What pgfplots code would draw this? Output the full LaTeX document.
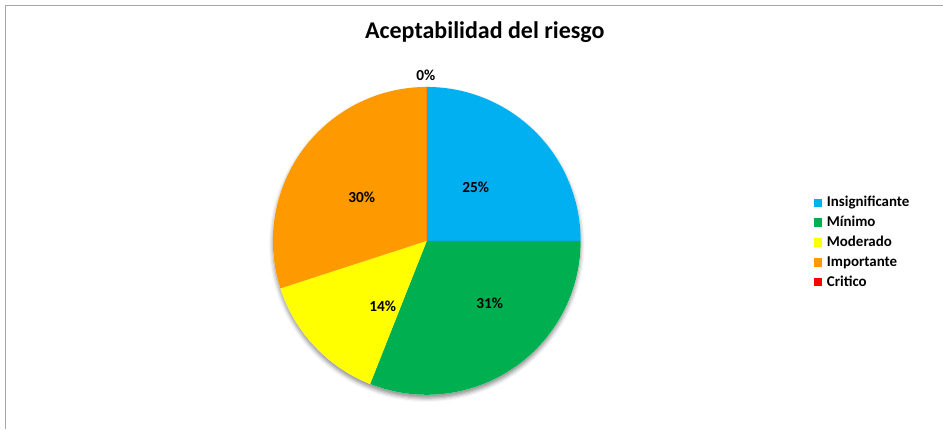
\documentclass[border=0pt]{standalone}
\usepackage{pgfplots}
\pgfplotsset{compat=1.18}
\usepackage{pgfplotstable}
\usepackage{fontspec}
\setmainfont{Carlito}
\usetikzlibrary{shadows.blur}

\definecolor{cInsig}{HTML}{00B0F0}
\definecolor{cMin}{HTML}{00B050}
\definecolor{cMod}{HTML}{FFFF00}
\definecolor{cImp}{HTML}{FF9900}
\definecolor{cCrit}{HTML}{FF0000}
\definecolor{marco}{HTML}{A6A6A6}

% valor en %, posicion de la etiqueta (px de la imagen, y hacia arriba)
\pgfplotstableread[col sep=comma]{
nivel,valor,color,lx,ly
Insignificante,25,cInsig,476,242
Mínimo,31,cMin,490,126
Moderado,14,cMod,383,123
Importante,30,cImp,362,232
Critico,0,cCrit,426,354
}\riesgo

\begin{document}
\begin{tikzpicture}
\begin{axis}[
  hide axis, scale only axis,
  x=0.75pt, y=0.75pt,
  xmin=0, xmax=943, ymin=0, ymax=429,
  clip=false,
  legend cell align=left,
  legend style={at={(axis cs:814,234.5)}, anchor=north west,
    draw=none, fill=none, inner sep=0pt,
    font=\bfseries\fontsize{11.2}{13}\selectfont, row sep=2.4pt,
    nodes={inner sep=1pt, text height=8pt, text depth=2.5pt},
    /tikz/every odd column/.append style={column sep=2.5pt}},
  legend image code/.code={\fill[#1, draw=none] (0pt,-3pt) rectangle (6.3pt,3.3pt);},
]
\path (axis cs:0,0) rectangle (axis cs:943,429);
\draw[marco, line width=0.75pt] (axis cs:6,0) -- (axis cs:6,423) -- (axis cs:943,423);

\node[font=\bfseries\fontsize{18}{21}\selectfont] at (axis cs:485,397) {Aceptabilidad del riesgo};

\path[fill=white, blur shadow={shadow xshift=0pt, shadow yshift=-2.5pt,
  shadow blur radius=3pt, shadow opacity=45}]
  (axis cs:427,188) circle[radius=115.5pt];

\def\acum{90}
\pgfplotsforeachungrouped \i in {0,...,4}{%
  \pgfplotstablegetelem{\i}{valor}\of\riesgo \let\val\pgfplotsretval
  \pgfplotstablegetelem{\i}{color}\of\riesgo \let\col\pgfplotsretval
  \pgfplotstablegetelem{\i}{lx}\of\riesgo \let\lx\pgfplotsretval
  \pgfplotstablegetelem{\i}{ly}\of\riesgo \let\ly\pgfplotsretval
  \pgfmathsetmacro\fin{\acum-3.6*\val}
  \edef\temp{\noexpand\fill[\col] (axis cs:427,188) -- ++(\acum:115.5pt)
    arc[start angle=\acum, end angle=\fin, radius=115.5pt] -- cycle;
    \noexpand\node[font=\noexpand\bfseries\noexpand\fontsize{11.5}{13}\noexpand\selectfont]
      at (axis cs:\lx,\ly) {\val\noexpand\%};}
  \temp
  \let\acum\fin
}

\addlegendimage{fill=cInsig}\addlegendentry{Insignificante}
\addlegendimage{fill=cMin}\addlegendentry{Mínimo}
\addlegendimage{fill=cMod}\addlegendentry{Moderado}
\addlegendimage{fill=cImp}\addlegendentry{Importante}
\addlegendimage{fill=cCrit}\addlegendentry{Critico}
\end{axis}
\end{tikzpicture}
\end{document}
